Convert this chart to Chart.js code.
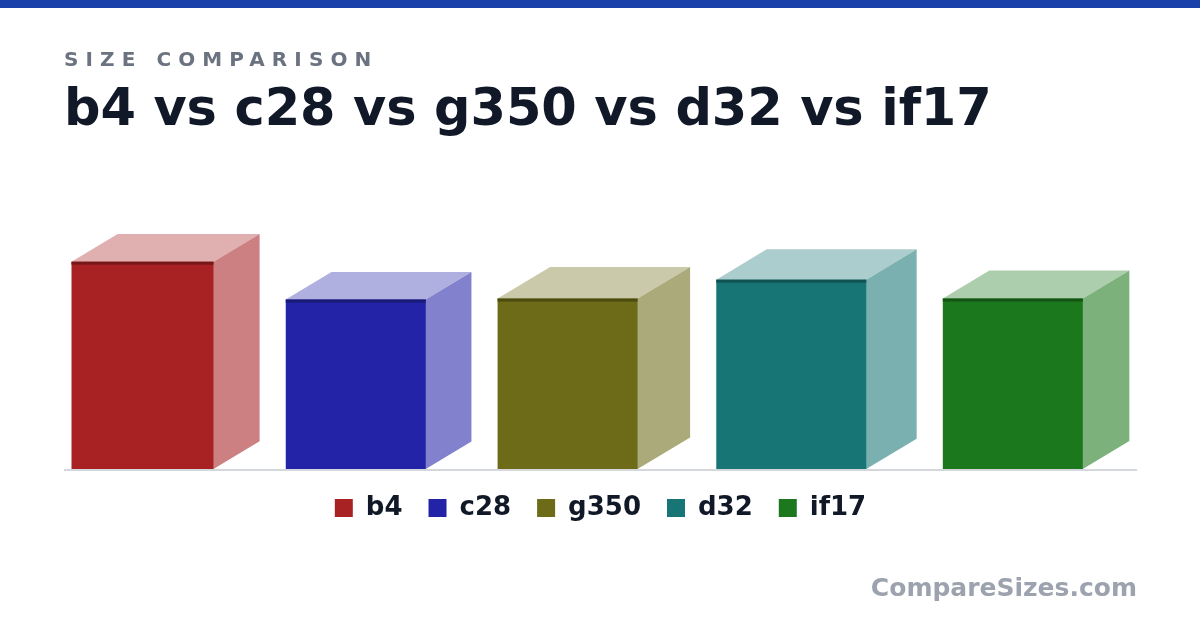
<!DOCTYPE html>
<html>
<head>
<meta charset="utf-8">
<title>b4 vs c28 vs g350 vs d32 vs if17</title>
<script src="https://cdn.jsdelivr.net/npm/chart.js@4.4.1/dist/chart.umd.min.js"></script>
<style>
  html, body { margin: 0; padding: 0; background: #fff; }
  #page { position: relative; width: 1200px; height: 630px; overflow: hidden; font-family: "DejaVu Sans", sans-serif; }
  #strip { position: absolute; left: 0; top: 0; width: 1200px; height: 8px; background: #1a40aa; }
  #kicker { position: absolute; left: 64px; top: 49px; font-size: 20px; line-height: 20px; font-weight: bold; letter-spacing: 7.1px; color: #6b7280; white-space: nowrap; }
  #title { position: absolute; left: 64px; top: 82px; font-size: 51px; line-height: 51px; font-weight: bold; color: #111827; white-space: nowrap; letter-spacing: -0.1px; }
  #brand { position: absolute; right: 63px; top: 575px; font-size: 25px; line-height: 25px; font-weight: bold; color: #9ca3af; white-space: nowrap; }
  #chart { position: absolute; left: 0; top: 0; }
</style>
</head>
<body>
<div id="page">
  <canvas id="chart" width="1200" height="630"></canvas>
  <div id="strip"></div>
  <div id="kicker">SIZE COMPARISON</div>
  <div id="title">b4 vs c28 vs g350 vs d32 vs if17</div>
  <div id="brand">CompareSizes.com</div>
</div>
<script>
// Box sizes (front width, height, depth) in the same units
const names   = ['b4', 'c28', 'g350', 'd32', 'if17'];
const widths  = [14.2, 14.0, 14.0, 15.0, 14.0];
const heights = [20.8, 17.0, 17.1, 19.0, 17.1];
const depths  = [10.8, 10.7, 12.3, 11.8, 10.9];
const colors  = ['#a82224', '#2323a8', '#6d6b17', '#187575', '#1c781c'];

// oblique projection for the depth faces
const DEPTH_K = 0.5;
const ANGLE = 31 * Math.PI / 180;
const GAP = 2.6;   // space between boxes
const EDGE = 0.75; // space at both ends of the floor line
const EDGE_LINE = 3; // dark rim along the top of each front face, px

function rgb(hex) {
  const n = parseInt(hex.slice(1), 16);
  return [(n >> 16) & 255, (n >> 8) & 255, n & 255];
}
// colour laid over white at a given strength
function tint(hex, a) {
  const c = rgb(hex).map(v => Math.round(255 - a * (255 - v)));
  return `rgb(${c[0]},${c[1]},${c[2]})`;
}
function shade(hex, f) {
  const c = rgb(hex).map(v => Math.round(v * f));
  return `rgb(${c[0]},${c[1]},${c[2]})`;
}

// put the boxes side by side, each taking its front width plus projected depth
const centers = [];
let cursor = EDGE;
names.forEach((n, i) => {
  centers.push(cursor + widths[i] / 2);
  cursor += widths[i] + depths[i] * DEPTH_K * Math.cos(ANGLE) + GAP;
});
const xMax = cursor - GAP + EDGE;

// Chart.js sizes non-grouped bars from the smallest gap between them
let minGap = Infinity;
for (let i = 1; i < centers.length; i++) {
  minGap = Math.min(minGap, centers[i] - centers[i - 1]);
}

const datasets = names.map((n, i) => ({
  label: n,
  data: [{ x: centers[i], y: heights[i] }],
  backgroundColor: colors[i],
  borderWidth: 0,
  grouped: false,
  categoryPercentage: 1,
  barPercentage: widths[i] / minGap
}));

function barBox(chart, i) {
  const bar = chart.getDatasetMeta(i).data[0];
  if (!bar) return null;
  const { x, y, base, width } = bar.getProps(['x', 'y', 'base', 'width'], true);
  const yScale = chart.scales.y;
  const d = (yScale.getPixelForValue(0) - yScale.getPixelForValue(depths[i])) * DEPTH_K;
  return { left: x - width / 2, right: x + width / 2, y, base, width,
           dx: d * Math.cos(ANGLE), dy: d * Math.sin(ANGLE) };
}

// top and side faces go under the bars (slight overlap hides seams),
// rim and floor line on top
const boxFaces = {
  id: 'boxFaces',
  beforeDatasetsDraw(chart) {
    const ctx = chart.ctx;
    ctx.save();
    chart.data.datasets.forEach((ds, i) => {
      const b = barBox(chart, i);
      if (!b) return;
      const { left, right, y, base, dx, dy } = b;

      ctx.fillStyle = tint(colors[i], 0.36);
      ctx.beginPath();
      ctx.moveTo(left, y + 1);
      ctx.lineTo(left, y);
      ctx.lineTo(left + dx, y - dy);
      ctx.lineTo(right + dx, y - dy);
      ctx.lineTo(right, y);
      ctx.lineTo(right, y + 1);
      ctx.closePath();
      ctx.fill();

      ctx.fillStyle = tint(colors[i], 0.575);
      ctx.beginPath();
      ctx.moveTo(right - 1, y);
      ctx.lineTo(right, y);
      ctx.lineTo(right + dx, y - dy);
      ctx.lineTo(right + dx, base - dy);
      ctx.lineTo(right, base);
      ctx.lineTo(right - 1, base);
      ctx.closePath();
      ctx.fill();
    });
    ctx.restore();
  },
  afterDatasetsDraw(chart) {
    const ctx = chart.ctx;
    const area = chart.chartArea;
    ctx.save();
    chart.data.datasets.forEach((ds, i) => {
      const b = barBox(chart, i);
      if (!b) return;
      ctx.fillStyle = shade(colors[i], 0.7);
      ctx.fillRect(b.left, b.y, b.width, EDGE_LINE);
    });

    const floor = chart.scales.y.getPixelForValue(0);
    ctx.strokeStyle = '#d4d7dc';
    ctx.lineWidth = 2;
    ctx.beginPath();
    ctx.moveTo(area.left, floor + 1);
    ctx.lineTo(area.right, floor + 1);
    ctx.stroke();
    ctx.restore();
  }
};

new Chart(document.getElementById('chart'), {
  type: 'bar',
  data: { datasets },
  plugins: [boxFaces],
  options: {
    responsive: false,
    animation: false,
    layout: { padding: { left: 64, right: 63, top: 170, bottom: 99 } },
    scales: {
      x: { type: 'linear', offset: false, min: 0, max: xMax, display: false, ticks: { stepSize: 1000 } },
      y: { min: 0, max: 30, display: false }
    },
    plugins: {
      legend: {
        position: 'bottom',
        labels: {
          boxWidth: 18,
          boxHeight: 18,
          padding: 26,
          color: '#111827',
          font: { family: 'DejaVu Sans', size: 26, weight: 'bold' },
          generateLabels(chart) {
            return Chart.defaults.plugins.legend.labels.generateLabels(chart)
              .map(l => Object.assign(l, { lineWidth: 0, strokeStyle: 'rgba(0,0,0,0)' }));
          }
        }
      },
      tooltip: { enabled: false }
    }
  }
});
</script>
</body>
</html>
